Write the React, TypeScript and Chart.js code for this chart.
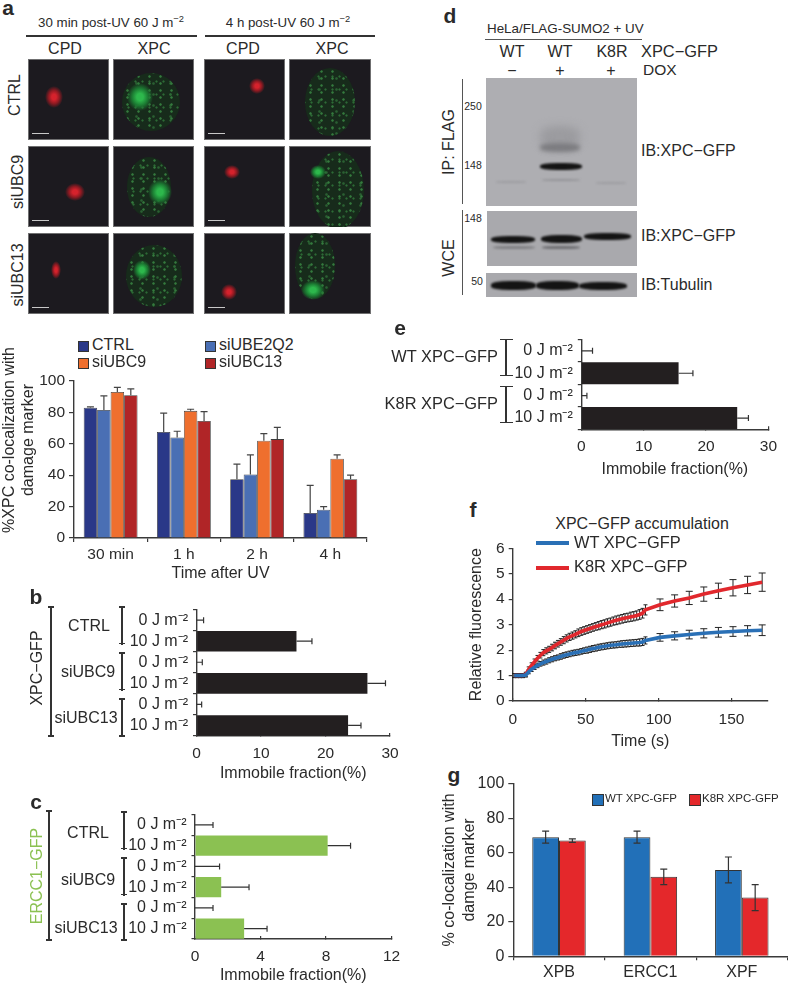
import React, { useEffect, useRef } from "react";
import { Chart, registerables } from "chart.js";

Chart.register(...registerables);

const FONT = '"Liberation Sans", Arial, sans-serif';
const INK = "#2a2a2a";

/* ---------- data: panel a ---------- */
const timeLabels = ["30 min", "1 h", "2 h", "4 h"];
const ctrlVals = [83, 67.5, 37.5, 16];
const ctrlTops = [83.5, 79.5, 47, 33.5];
const ube2q2Vals = [81.5, 64, 40.5, 18];
const ube2q2Tops = [90.5, 68, 53, 20];
const ubc9Vals = [93, 81, 62, 50.5];
const ubc9Tops = [96, 82, 66.5, 53];
const ubc13Vals = [91, 74.5, 63, 37.5];
const ubc13Tops = [95, 80.5, 70.5, 40];

/* ---------- data: panels b, c, e ---------- */
const doseLabels6 = ["0 J m⁻²", "10 J m⁻²", "0 J m⁻²", "10 J m⁻²", "0 J m⁻²", "10 J m⁻²"];
const doseLabels4 = ["0 J m⁻²", "10 J m⁻²", "0 J m⁻²", "10 J m⁻²"];
const xpcImmobile = [0, 15.5, 0, 26.5, 0, 23.5];
const xpcImmobileTops = [1.1, 17.9, 0.9, 29.3, 0.8, 25.5];
const erccImmobile = [0, 8.1, 0, 1.6, 0, 3];
const erccImmobileTops = [1.1, 9.5, 1.5, 3.3, 1.1, 4.4];
const k8rImmobile = [0, 15.6, 0, 25];
const k8rImmobileTops = [1.8, 17.9, 0.9, 26.8];

/* ---------- data: panel f ---------- */
const fTimes = [1, 3, 5, 7, 9, 11, 13, 15, 17, 19, 21, 23, 25, 27, 29, 31, 33, 35, 37, 39, 41, 43, 45, 47, 49, 51, 53, 55, 57, 59, 61, 63, 65, 67, 69, 71, 73, 75, 77, 79, 81, 83, 85, 87, 89, 91, 101, 111, 121, 131, 141, 151, 161, 171];
const wtFluor = [1, 1, 1, 1, 1.02, 1.15, 1.25, 1.33, 1.4, 1.46, 1.51, 1.55, 1.6, 1.64, 1.68, 1.71, 1.75, 1.79, 1.82, 1.85, 1.88, 1.9, 1.92, 1.95, 1.98, 2, 2.03, 2.06, 2.08, 2.11, 2.13, 2.15, 2.17, 2.19, 2.2, 2.21, 2.23, 2.24, 2.25, 2.26, 2.27, 2.28, 2.29, 2.3, 2.32, 2.38, 2.5, 2.56, 2.61, 2.66, 2.7, 2.73, 2.76, 2.78];
const wtFluorErr = [0.08, 0.08, 0.08, 0.08, 0.08, 0.08, 0.09, 0.09, 0.09, 0.09, 0.1, 0.1, 0.1, 0.1, 0.1, 0.1, 0.11, 0.11, 0.11, 0.11, 0.11, 0.11, 0.11, 0.11, 0.11, 0.12, 0.12, 0.12, 0.12, 0.12, 0.12, 0.12, 0.12, 0.12, 0.12, 0.12, 0.12, 0.13, 0.13, 0.13, 0.13, 0.13, 0.13, 0.14, 0.14, 0.14, 0.15, 0.16, 0.17, 0.18, 0.19, 0.19, 0.2, 0.21];
const k8rFluor = [1, 1, 1, 1, 1.05, 1.25, 1.4, 1.55, 1.68, 1.8, 1.9, 1.97, 2.03, 2.1, 2.18, 2.25, 2.32, 2.39, 2.46, 2.52, 2.57, 2.62, 2.68, 2.73, 2.77, 2.81, 2.85, 2.89, 2.93, 2.96, 3, 3.03, 3.07, 3.1, 3.14, 3.17, 3.2, 3.23, 3.26, 3.28, 3.31, 3.33, 3.36, 3.4, 3.45, 3.58, 3.78, 3.93, 4.05, 4.2, 4.33, 4.45, 4.56, 4.67];
const k8rFluorErr = [0.08, 0.08, 0.08, 0.08, 0.08, 0.09, 0.1, 0.1, 0.11, 0.11, 0.12, 0.12, 0.12, 0.13, 0.13, 0.13, 0.13, 0.14, 0.14, 0.14, 0.14, 0.14, 0.15, 0.15, 0.15, 0.15, 0.15, 0.15, 0.15, 0.16, 0.16, 0.16, 0.16, 0.16, 0.16, 0.17, 0.17, 0.17, 0.17, 0.17, 0.18, 0.18, 0.18, 0.19, 0.19, 0.2, 0.23, 0.24, 0.26, 0.28, 0.3, 0.32, 0.34, 0.36];

/* ---------- data: panel g ---------- */
const factorLabels = ["XPB", "ERCC1", "XPF"];
const wtColoc = [69, 69, 50];
const wtColocErr = [3.5, 3.5, 7.5];
const k8rColoc = [67, 46, 34];
const k8rColocErr = [1, 4.5, 7.5];

/* ---------- shared chart helpers ---------- */
type Box = { x: number; y: number; w: number; h: number };
type Plot = { l: number; t: number; r: number; b: number };

const errorBars = {
  id: "errorBars",
  draw(chart: any, opts: any) {
    const { ctx } = chart;
    const horizontal = chart.options.indexAxis === "y";
    ctx.save();
    ctx.strokeStyle = opts.color || "#333";
    ctx.lineWidth = opts.lineWidth || 1.2;
    chart.data.datasets.forEach((ds: any, di: number) => {
      if (!ds.errHi) return;
      const meta = chart.getDatasetMeta(di);
      const cap = Array.isArray(opts.cap) ? opts.cap : null;
      meta.data.forEach((el: any, i: number) => {
        const half = cap ? (i < opts.denseCount ? cap[0] : cap[1]) : opts.cap || 3;
        const lo = ds.errLo ? ds.errLo[i] : ds.data[i];
        const hi = ds.errHi[i];
        ctx.beginPath();
        if (horizontal) {
          const s = chart.scales.x;
          const a = s.getPixelForValue(lo);
          const b = s.getPixelForValue(hi);
          ctx.moveTo(a, el.y);
          ctx.lineTo(b, el.y);
          ctx.moveTo(b, el.y - half);
          ctx.lineTo(b, el.y + half);
        } else {
          const s = chart.scales.y;
          const a = s.getPixelForValue(lo);
          const b = s.getPixelForValue(hi);
          ctx.moveTo(el.x, a);
          ctx.lineTo(el.x, b);
          ctx.moveTo(el.x - half, b);
          ctx.lineTo(el.x + half, b);
          if (ds.errLo) {
            ctx.moveTo(el.x - half, a);
            ctx.lineTo(el.x + half, a);
          }
        }
        ctx.stroke();
      });
    });
    ctx.restore();
  },
  beforeDatasetsDraw(chart: any, _a: any, opts: any) {
    if (opts.under) errorBars.draw(chart, opts);
  },
  afterDatasetsDraw(chart: any, _a: any, opts: any) {
    if (opts.enabled !== false && !opts.under) errorBars.draw(chart, opts);
  },
};

function axisCommon(fontSize: number, tick: number, padding: number) {
  return {
    border: { color: "#3a3a3a", width: 1.4 },
    grid: { drawOnChartArea: false, drawTicks: true, tickLength: tick, color: "#3a3a3a", lineWidth: 1.2 },
    ticks: { color: INK, padding, font: { family: FONT, size: fontSize }, maxRotation: 0, autoSkip: false },
  };
}

function title(text: string | string[]) {
  return {
    display: true,
    text,
    color: INK,
    padding: 0,
    font: { family: FONT, size: 16, lineHeight: 1.2 },
  };
}

function build(canvas: HTMLCanvasElement, box: Box, plot: Plot, yW: number, xH: number, cfg: any) {
  canvas.width = box.w;
  canvas.height = box.h;
  const options = cfg.options;
  options.scales.x.afterFit = (s: any) => {
    s.height = xH;
  };
  options.scales.y.afterFit = (s: any) => {
    s.width = yW;
  };
  return new Chart(canvas, {
    ...cfg,
    plugins: [errorBars],
    options: {
      responsive: false,
      animation: false,
      devicePixelRatio: 1,
      ...options,
      layout: {
        padding: {
          left: plot.l - box.x - yW,
          top: plot.t - box.y,
          right: box.x + box.w - plot.r,
          bottom: box.y + box.h - plot.b - xH,
        },
      },
      plugins: {
        legend: { display: false },
        tooltip: { enabled: false },
        title: { display: false },
        ...options.plugins,
      },
    },
  });
}

function horizontalCfg(labels: string[], values: number[], tops: number[], color: string, max: number, step: number) {
  const xAxis: any = axisCommon(15.5, -3, 11);
  const yAxis: any = axisCommon(16, 3.5, 5);
  return {
    type: "bar",
    data: {
      labels,
      datasets: [
        {
          label: "Immobile fraction",
          data: values,
          errHi: tops,
          backgroundColor: color,
          categoryPercentage: 1,
          barPercentage: 0.98,
        },
      ],
    },
    options: {
      indexAxis: "y",
      scales: {
        x: {
          ...xAxis,
          type: "linear",
          min: 0,
          max,
          ticks: { ...xAxis.ticks, stepSize: step },
          title: title("Immobile fraction(%)"),
        },
        y: { ...yAxis, type: "category" },
      },
      plugins: { errorBars: { cap: 3, color: "#333", lineWidth: 1.2 } },
    },
  };
}

/* ---------- chart configurations ---------- */
function chartA(c: HTMLCanvasElement) {
  const xAxis: any = axisCommon(15.5, 4, 3);
  const yAxis: any = axisCommon(15.5, 5, 4);
  const common = { borderColor: "#3d3d3d", borderWidth: 0.8, categoryPercentage: 0.735, barPercentage: 1 };
  return build(c, { x: 0, y: 365, w: 380, h: 220 }, { l: 74, t: 381, r: 367, b: 538 }, 74, 45, {
    type: "bar",
    data: {
      labels: timeLabels,
      datasets: [
        { label: "CTRL", data: ctrlVals, errHi: ctrlTops, backgroundColor: "#2a3888", ...common },
        { label: "siUBE2Q2", data: ube2q2Vals, errHi: ube2q2Tops, backgroundColor: "#4a6fb4", ...common },
        { label: "siUBC9", data: ubc9Vals, errHi: ubc9Tops, backgroundColor: "#ef6f2e", ...common },
        { label: "siUBC13", data: ubc13Vals, errHi: ubc13Tops, backgroundColor: "#b02527", ...common },
      ],
    },
    options: {
      scales: {
        x: { ...xAxis, type: "category", title: title("Time after UV") },
        y: { ...yAxis, type: "linear", min: 0, max: 100, ticks: { ...yAxis.ticks, stepSize: 20 } },
      },
      plugins: { errorBars: { cap: 3.5, color: "#444", lineWidth: 1.2 } },
    },
  });
}

function chartF(c: HTMLCanvasElement) {
  const xAxis: any = axisCommon(15.5, -3, 12);
  const yAxis: any = axisCommon(15.5, 4, 4);
  const toPts = (vals: number[]) => fTimes.map((t, i) => ({ x: t, y: vals[i] }));
  const low = (v: number[], e: number[]) => v.map((n, i) => n - e[i]);
  const high = (v: number[], e: number[]) => v.map((n, i) => n + e[i]);
  return build(c, { x: 455, y: 535, w: 333, h: 220 }, { l: 512.7, t: 545, r: 768, b: 701 }, 46, 50, {
    type: "line",
    data: {
      datasets: [
        {
          label: "WT XPC−GFP",
          data: toPts(wtFluor),
          errLo: low(wtFluor, wtFluorErr),
          errHi: high(wtFluor, wtFluorErr),
          borderColor: "#2a70b6",
          borderWidth: 3.6,
          pointRadius: 0,
          tension: 0,
        },
        {
          label: "K8R XPC−GFP",
          data: toPts(k8rFluor),
          errLo: low(k8rFluor, k8rFluorErr),
          errHi: high(k8rFluor, k8rFluorErr),
          borderColor: "#e1282d",
          borderWidth: 3.6,
          pointRadius: 0,
          tension: 0,
        },
      ],
    },
    options: {
      scales: {
        x: {
          ...xAxis,
          type: "linear",
          min: 0,
          max: 175,
          ticks: { ...xAxis.ticks, stepSize: 50, includeBounds: false },
          title: title("Time (s)"),
        },
        y: {
          ...yAxis,
          type: "linear",
          min: 0,
          max: 6,
          ticks: { ...yAxis.ticks, stepSize: 1 },
          title: title("Relative fluorescence"),
        },
      },
      plugins: { errorBars: { under: true, cap: [2, 3.5], denseCount: 46, color: "#222", lineWidth: 1 } },
    },
  });
}

function chartG(c: HTMLCanvasElement) {
  const xAxis: any = axisCommon(16, 4, 3);
  const yAxis: any = axisCommon(16, 5, 4);
  const common = { borderColor: "#333", borderWidth: 1, categoryPercentage: 0.585, barPercentage: 1 };
  const low = (v: number[], e: number[]) => v.map((n, i) => n - e[i]);
  const high = (v: number[], e: number[]) => v.map((n, i) => n + e[i]);
  return build(c, { x: 440, y: 770, w: 348, h: 215 }, { l: 513.3, t: 780, r: 787.5, b: 956.3 }, 73, 25, {
    type: "bar",
    data: {
      labels: factorLabels,
      datasets: [
        {
          label: "WT XPC-GFP",
          data: wtColoc,
          errLo: low(wtColoc, wtColocErr),
          errHi: high(wtColoc, wtColocErr),
          backgroundColor: "#2270b8",
          ...common,
        },
        {
          label: "K8R XPC-GFP",
          data: k8rColoc,
          errLo: low(k8rColoc, k8rColocErr),
          errHi: high(k8rColoc, k8rColocErr),
          backgroundColor: "#e4282b",
          ...common,
        },
      ],
    },
    options: {
      scales: {
        x: { ...xAxis, type: "category" },
        y: {
          ...yAxis,
          type: "linear",
          min: 0,
          max: 100,
          ticks: { ...yAxis.ticks, stepSize: 20 },
          title: title(["% co-localization with", "damge marker"]),
        },
      },
      plugins: { errorBars: { cap: 3.5, color: "#333", lineWidth: 1.2 } },
    },
  });
}

/* ---------- page furniture ---------- */
function T({ x, y, s = 16, rot, anchor = "c", color = INK, bold, children }: any) {
  const tx = anchor === "c" ? "-50%" : anchor === "r" ? "-100%" : "0";
  return (
    <div
      style={{
        position: "absolute",
        left: x,
        top: y,
        fontFamily: FONT,
        fontSize: s,
        lineHeight: 1.2,
        color,
        fontWeight: bold ? 700 : 400,
        whiteSpace: "pre",
        textAlign: "center",
        transform: `translate(${tx},-50%)${rot ? ` rotate(${rot}deg)` : ""}`,
      }}
    >
      {children}
    </div>
  );
}

function Rule({ x, y, w, h, c = "#333" }: any) {
  return <div style={{ position: "absolute", left: x, top: y, width: w, height: h, background: c }} />;
}

function Bracket({ x, y1, y2, cap = 3, t = 1.6 }: any) {
  return (
    <>
      <Rule x={x - t / 2} y={y1} w={t} h={y2 - y1} />
      <Rule x={x - cap} y={y1} w={cap * 2} h={t} />
      <Rule x={x - cap} y={y2 - t} w={cap * 2} h={t} />
    </>
  );
}

const Sq = () => <sup style={{ fontSize: "0.7em", lineHeight: 0, verticalAlign: "0.5em" }}>−2</sup>;

const cols = [
  [28, 81],
  [113, 81],
  [204, 81],
  [289, 82],
];
const rows = [59, 146, 233];

type Cell = { r: number; c: number; red?: number[]; cell?: number[]; blob?: number[] };
const cells: Cell[] = [
  { r: 0, c: 0, red: [26, 38, 9, 11] },
  { r: 0, c: 1, cell: [38, 43, 29, 29], blob: [27, 38, 13, 14] },
  { r: 0, c: 2, red: [53, 27, 8, 8] },
  { r: 0, c: 3, cell: [41, 43, 25, 34] },
  { r: 1, c: 0, red: [47, 46, 10, 9] },
  { r: 1, c: 1, cell: [36, 41, 22, 30], blob: [47, 46, 12, 13] },
  { r: 1, c: 2, red: [28, 26, 8, 7] },
  { r: 1, c: 3, cell: [49, 44, 26, 39], blob: [29, 26, 8, 7] },
  { r: 2, c: 0, red: [28, 37, 5, 9] },
  { r: 2, c: 1, cell: [41, 43, 28, 31], blob: [29, 37, 9, 10] },
  { r: 2, c: 2, red: [25, 59, 8, 8] },
  { r: 2, c: 3, cell: [26, 33, 20, 33], blob: [24, 57, 12, 10] },
];

function blobStyle(b: number[], core: string, mid: string): React.CSSProperties {
  return {
    position: "absolute",
    left: b[0] - b[2],
    top: b[1] - b[3],
    width: b[2] * 2,
    height: b[3] * 2,
    borderRadius: "50%",
    background: `radial-gradient(ellipse closest-side, ${core} 0%, ${core} 25%, ${mid} 60%, transparent 100%)`,
  };
}

function Micrographs() {
  return (
    <>
      {cells.map((m) => (
        <div
          key={`${m.r}-${m.c}`}
          style={{
            position: "absolute",
            left: cols[m.c][0],
            top: rows[m.r],
            width: cols[m.c][1],
            height: 81,
            background: "#1c1a1f",
            overflow: "hidden",
            boxShadow: "inset 0 0 0 1px #6f6f70",
          }}
        >
          {m.cell && (
            <div
              style={{
                position: "absolute",
                left: m.cell[0] - m.cell[2],
                top: m.cell[1] - m.cell[3],
                width: m.cell[2] * 2,
                height: m.cell[3] * 2,
                borderRadius: "50%",
                backgroundColor: "#172b1b",
                backgroundImage:
                  "radial-gradient(circle, #347a3d 0.8px, transparent 1.6px), radial-gradient(circle, #2c6a35 0.7px, transparent 1.5px), radial-gradient(circle, #2a5f32 0.8px, transparent 1.7px)",
                backgroundSize: "11px 7px, 7px 13px, 17px 11px",
                backgroundPosition: "0 0, 3px 2px, 6px 5px",
                filter: "blur(0.7px)",
              }}
            />
          )}
          {m.blob && <div style={blobStyle(m.blob, "#2db84c", "#1c7d33")} />}
          {m.red && <div style={blobStyle(m.red, "#d5222c", "#8f1a22")} />}
          {m.red && <Rule x={4} y={74} w={17} h={1.4} c="#c8c8c8" />}
        </div>
      ))}
    </>
  );
}

function Band({ x, y, w, h, c = "#141414", blur = 1, o = 1 }: any) {
  return (
    <div
      style={{
        position: "absolute",
        left: x,
        top: y,
        width: w,
        height: h,
        background: c,
        opacity: o,
        borderRadius: "40%",
        filter: `blur(${blur}px)`,
      }}
    />
  );
}

function Blots() {
  const clip = (x: number, y: number, w: number, h: number, bg: string, kids: React.ReactNode) => (
    <div style={{ position: "absolute", left: x, top: y, width: w, height: h, background: bg, overflow: "hidden" }}>
      {kids}
    </div>
  );
  return (
    <>
      {clip(
        486,
        78,
        151,
        128,
        "#aeaeb2",
        <>
          <Band x={54} y={48} w={40} h={22} c="#9b9b9f" blur={4} />
          <Band x={54} y={65} w={40} h={9} c="#7c7c80" blur={2} />
          <Band x={54} y={85} w={42} h={7} />
          <Band x={56} y={101} w={38} h={2} c="#949498" />
          <Band x={10} y={103} w={30} h={1.5} c="#9d9da1" />
          <Band x={110} y={104} w={30} h={1.5} c="#9d9da1" />
        </>
      )}
      {clip(
        487,
        211,
        150,
        55,
        "#a9a9ad",
        <>
          <Band x={4} y={25} w={44} h={7} />
          <Band x={54} y={24} w={41} h={8} />
          <Band x={97} y={22} w={47} h={7} />
          <Band x={6} y={35} w={42} h={3} c="#808084" />
          <Band x={55} y={35} w={38} h={3} c="#6e6e72" />
        </>
      )}
      {clip(
        486,
        273,
        151,
        24,
        "#a9a9ad",
        <>
          <Band x={5} y={8} w={45} h={9} />
          <Band x={50} y={8} w={43} h={9} />
          <Band x={93} y={9} w={48} h={8} />
        </>
      )}
    </>
  );
}

export default function App() {
  const aRef = useRef<HTMLCanvasElement>(null);
  const bRef = useRef<HTMLCanvasElement>(null);
  const cRef = useRef<HTMLCanvasElement>(null);
  const eRef = useRef<HTMLCanvasElement>(null);
  const fRef = useRef<HTMLCanvasElement>(null);
  const gRef = useRef<HTMLCanvasElement>(null);

  useEffect(() => {
    const charts = [
      chartA(aRef.current!),
      build(
        bRef.current!,
        { x: 120, y: 595, w: 295, h: 190 },
        { l: 196.5, t: 605, r: 390, b: 736 },
        70,
        47,
        horizontalCfg(doseLabels6, xpcImmobile, xpcImmobileTops, "#231f20", 30, 10)
      ),
      build(
        cRef.current!,
        { x: 120, y: 800, w: 295, h: 185 },
        { l: 195, t: 809, r: 391.5, b: 939 },
        70,
        46.5,
        horizontalCfg(doseLabels6, erccImmobile, erccImmobileTops, "#8bc152", 12, 4)
      ),
      build(
        eRef.current!,
        { x: 510, y: 325, w: 278, h: 155 },
        { l: 581.3, t: 333, r: 779, b: 429.3 },
        70,
        49.5,
        horizontalCfg(doseLabels4, k8rImmobile, k8rImmobileTops, "#231f20", 30, 10)
      ),
      chartF(fRef.current!),
      chartG(gRef.current!),
    ];
    return () => charts.forEach((ch) => ch.destroy());
  }, []);

  const boxOf = (x: number, y: number): React.CSSProperties => ({ position: "absolute", left: x, top: y });

  return (
    <div style={{ position: "absolute", left: 0, top: 0, width: 788, height: 985, background: "#fff", overflow: "hidden" }}>
      {/* panel a images */}
      <T x={8} y={8} s={21} bold>a</T>
      <T x={111} y={23} s={13.3}>30 min post-UV 60 J m<Sq /></T>
      <T x={288} y={23} s={13.3}>4 h post-UV 60 J m<Sq /></T>
      <Rule x={26} y={34.5} w={171} h={2} />
      <Rule x={205} y={34.5} w={170} h={2} />
      <T x={65} y={49}>CPD</T>
      <T x={154} y={49}>XPC</T>
      <T x={243} y={49}>CPD</T>
      <T x={332} y={49}>XPC</T>
      <T x={15} y={95} rot={-90}>CTRL</T>
      <T x={18} y={182} rot={-90}>siUBC9</T>
      <T x={18} y={275} rot={-90}>siUBC13</T>
      <Micrographs />

      {/* panel a chart */}
      <canvas ref={aRef} style={boxOf(0, 365)} />
      <T x={18} y={440} rot={-90}>{"%XPC co-localization with\ndamage marker"}</T>
      {[
        ["CTRL", 78, 345, "#2a3888"],
        ["siUBE2Q2", 205, 345, "#4a6fb4"],
        ["siUBC9", 78, 362, "#ef6f2e"],
        ["siUBC13", 205, 362, "#b02527"],
      ].map(([name, x, y, col]: any) => (
        <React.Fragment key={name}>
          <div style={{ position: "absolute", left: x, top: y - 4.5, width: 9, height: 9, background: col, border: "0.6px solid #333" }} />
          <T x={x + 14} y={y} anchor="l">{name}</T>
        </React.Fragment>
      ))}

      {/* panel b */}
      <T x={36} y={597} s={21} bold>b</T>
      <canvas ref={bRef} style={boxOf(120, 595)} />
      <Bracket x={51} y1={606} y2={737} cap={2.8} />
      <Bracket x={122} y1={606} y2={644.5} />
      <Bracket x={122} y1={652} y2={690.5} />
      <Bracket x={122} y1={698} y2={737} />
      <T x={37} y={668} rot={-90}>XPC−GFP</T>
      <T x={89} y={626}>CTRL</T>
      <T x={88} y={672}>siUBC9</T>
      <T x={86} y={718}>siUBC13</T>

      {/* panel c */}
      <T x={36} y={802} s={21} bold>c</T>
      <canvas ref={cRef} style={boxOf(120, 800)} />
      <Bracket x={49} y1={810} y2={941} cap={2.8} />
      <Bracket x={124} y1={811} y2={849.5} />
      <Bracket x={124} y1={857} y2={895.5} />
      <Bracket x={124} y1={903} y2={941} />
      <T x={37} y={876} rot={-90} color="#8bc152">ERCC1−GFP</T>
      <T x={88} y={833}>CTRL</T>
      <T x={88} y={880}>siUBC9</T>
      <T x={86} y={928}>siUBC13</T>

      {/* panel d */}
      <T x={450} y={16} s={21} bold>d</T>
      <T x={487} y={29} s={13.4} anchor="l">HeLa/FLAG-SUMO2 + UV</T>
      <Rule x={485} y={38.5} w={157} h={1} c="#555" />
      <T x={512} y={52}>WT</T>
      <T x={560} y={52}>WT</T>
      <T x={612} y={52}>K8R</T>
      <T x={641} y={52} s={16.4} anchor="l">XPC−GFP</T>
      <T x={512} y={71}>−</T>
      <T x={560} y={71}>+</T>
      <T x={611} y={71}>+</T>
      <T x={643} y={70} s={15.5} anchor="l">DOX</T>
      <Blots />
      <Rule x={461.5} y={79} w={1.2} h={125} c="#555" />
      <Rule x={461.5} y={210} w={1.2} h={85} c="#555" />
      <T x={473} y={106} s={10.5}>250</T>
      <T x={473} y={165} s={10.5}>148</T>
      <T x={473} y={218} s={10.5}>148</T>
      <T x={477} y={281} s={10.5}>50</T>
      <T x={449} y={142} rot={-90}>IP: FLAG</T>
      <T x={449} y={258} rot={-90}>WCE</T>
      <T x={641} y={151} anchor="l">IB:XPC−GFP</T>
      <T x={641} y={236} anchor="l">IB:XPC−GFP</T>
      <T x={641} y={285} anchor="l">IB:Tubulin</T>

      {/* panel e */}
      <T x={400} y={328} s={21} bold>e</T>
      <canvas ref={eRef} style={boxOf(510, 325)} />
      <Bracket x={506} y1={339} y2={376} cap={6.5} t={1.2} />
      <Bracket x={506} y1={386} y2={423} cap={6.5} t={1.2} />
      <T x={498} y={357} s={16.4} anchor="r">WT XPC−GFP</T>
      <T x={498} y={404} s={16.4} anchor="r">K8R XPC−GFP</T>

      {/* panel f */}
      <T x={473} y={510} s={21} bold>f</T>
      <canvas ref={fRef} style={boxOf(455, 535)} />
      <T x={642} y={524}>XPC−GFP accumulation</T>
      <Rule x={536} y={541} w={33} h={3.6} c="#2a70b6" />
      <Rule x={536} y={566} w={33} h={3.6} c="#e1282d" />
      <T x={574} y={543} s={16.4} anchor="l">WT XPC−GFP</T>
      <T x={574} y={567} s={16.4} anchor="l">K8R XPC−GFP</T>

      {/* panel g */}
      <T x={454} y={775} s={21} bold>g</T>
      <canvas ref={gRef} style={boxOf(440, 770)} />
      <div style={{ position: "absolute", left: 592, top: 794, width: 10, height: 9.5, background: "#2270b8", border: "0.6px solid #333" }} />
      <T x={605} y={799} s={11.5} anchor="l">WT XPC-GFP</T>
      <div style={{ position: "absolute", left: 689, top: 794, width: 10, height: 9.5, background: "#e4282b", border: "0.6px solid #333" }} />
      <T x={702} y={799} s={11.5} anchor="l">K8R XPC-GFP</T>
    </div>
  );
}
